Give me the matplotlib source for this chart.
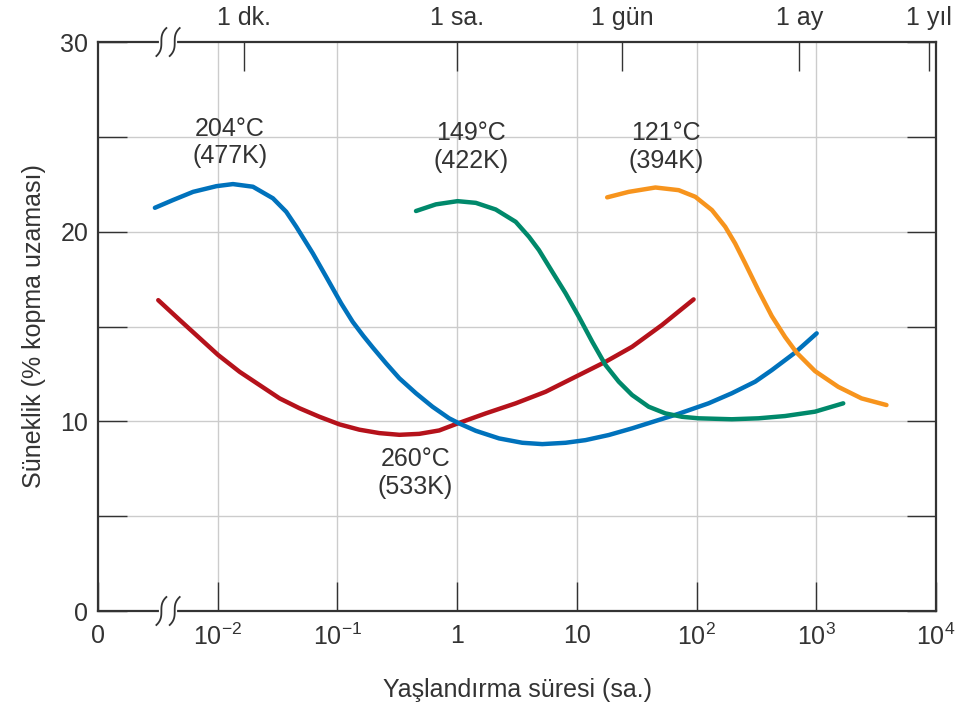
import numpy as np
import matplotlib
matplotlib.use("Agg")
import matplotlib.pyplot as plt

plt.rcParams['font.family'] = ['Liberation Sans', 'DejaVu Sans']
plt.rcParams['mathtext.fontset'] = 'custom'
plt.rcParams['mathtext.rm'] = 'Liberation Sans'

# log10(süre, sa.) ve süneklik (%)
t204 = [-2.525, -2.373, -2.206, -2.011, -1.873, -1.706, -1.539, -1.428, -1.344, -1.206,
        -1.094, -0.969, -0.873, -0.783, -0.706, -0.594, -0.483, -0.344, -0.206, -0.067,
        0.017, 0.156, 0.35, 0.544, 0.711, 0.906, 1.072, 1.267, 1.461, 1.683, 1.85, 2.1,
        2.294, 2.489, 2.628, 2.822, 3.003]
d204 = [21.26, 21.67, 22.10, 22.40, 22.51, 22.37, 21.76, 21.05, 20.26, 18.86,
        17.62, 16.22, 15.25, 14.50, 13.90, 13.06, 12.27, 11.48, 10.77, 10.16,
        9.89, 9.50, 9.10, 8.87, 8.80, 8.87, 9.01, 9.28, 9.63, 10.07, 10.40, 10.95,
        11.48, 12.09, 12.70, 13.62, 14.64]

t260 = [-2.497, -2.317, -2.15, -1.997, -1.817, -1.65, -1.483, -1.317, -1.15, -0.983,
        -0.817, -0.65, -0.483, -0.317, -0.15, 0.0, 0.239, 0.489, 0.739, 0.989, 1.239,
        1.461, 1.711, 1.975]
d260 = [16.39, 15.34, 14.38, 13.50, 12.61, 11.91, 11.21, 10.69, 10.24, 9.84,
        9.56, 9.38, 9.29, 9.34, 9.52, 9.88, 10.42, 10.95, 11.56, 12.35, 13.14,
        13.93, 15.08, 16.43]

t149 = [-0.344, -0.178, 0.003, 0.156, 0.322, 0.489, 0.6, 0.683, 0.794, 0.906, 1.017,
        1.128, 1.239, 1.35, 1.461, 1.6, 1.739, 1.878, 2.017, 2.294, 2.517, 2.739,
        2.989, 3.225]
d149 = [21.09, 21.44, 21.61, 21.52, 21.17, 20.52, 19.73, 19.03, 17.89, 16.75, 15.51,
        14.20, 12.97, 12.09, 11.39, 10.77, 10.42, 10.24, 10.16, 10.11, 10.16, 10.28,
        10.51, 10.95]

t121 = [1.253, 1.433, 1.656, 1.85, 1.989, 2.128, 2.239, 2.322, 2.406, 2.517, 2.628,
        2.739, 2.836, 2.989, 3.183, 3.378, 3.586]
d121 = [21.81, 22.10, 22.33, 22.19, 21.84, 21.14, 20.26, 19.38, 18.33, 16.90, 15.55,
        14.45, 13.62, 12.65, 11.82, 11.21, 10.86]

x_ticks = [1e-3, 1e-2, 1e-1, 1, 10, 1e2, 1e3, 1e4]
x_labels = ['0', r'$\mathregular{10^{-2}}$', r'$\mathregular{10^{-1}}$', '1', '10',
            r'$\mathregular{10^{2}}$', r'$\mathregular{10^{3}}$', r'$\mathregular{10^{4}}$']
top_ticks = [1 / 60, 1, 24, 720, 8760]
top_labels = ['1 dk.', '1 sa.', '1 gün', '1 ay', '1 yıl']

fs = 18
tc = '#333333'
fig = plt.figure(figsize=(9.62, 7.04), dpi=100)
ax = fig.add_axes([0.1019, 0.1321, 0.8711, 0.8082])

ax.set_xscale('log')
ax.set_xlim(1e-3, 1e4)
ax.set_ylim(0, 30)

for y in [5, 10, 15, 20, 25]:
    ax.axhline(y, color='#cccccc', lw=1.0, zorder=0)
for x in [1e-2, 1e-1, 1, 10, 1e2, 1e3]:
    ax.axvline(x, color='#cccccc', lw=1.0, zorder=0)

lw = 3.2
ax.plot(10 ** np.array(t260), d260, color='#b5121b', lw=lw, solid_capstyle='round', zorder=3)
ax.plot(10 ** np.array(t204), d204, color='#0072bc', lw=lw, solid_capstyle='round', zorder=3)
ax.plot(10 ** np.array(t149), d149, color='#00896b', lw=lw, solid_capstyle='round', zorder=3)
ax.plot(10 ** np.array(t121), d121, color='#f7941d', lw=lw, solid_capstyle='round', zorder=3)

kw = dict(ha='center', va='center', fontsize=fs, color=tc, linespacing=1.2)
ax.text(10 ** -1.9, 24.7, '204°C\n(477K)', **kw)
ax.text(10 ** 0.117, 24.45, '149°C\n(422K)', **kw)
ax.text(10 ** 1.742, 24.45, '121°C\n(394K)', **kw)
ax.text(10 ** -0.35, 7.27, '260°C\n(533K)', **kw)

ax.set_xticks(x_ticks)
ax.set_xticklabels(x_labels)
ax.xaxis.set_minor_locator(matplotlib.ticker.NullLocator())
ax.set_yticks([0, 10, 20, 30])
ax.set_yticks([5, 15, 25], minor=True)
ax.tick_params(axis='both', which='both', direction='in', length=21, width=1.0,
               color=tc, labelsize=fs, labelcolor=tc)
ax.tick_params(axis='x', pad=9)
ax.tick_params(axis='y', which='both', right=True, pad=7)

for s in ax.spines.values():
    s.set_linewidth(1.6)
    s.set_color(tc)

top = ax.twiny()
top.set_xscale('log')
top.set_xlim(1e-3, 1e4)
top.set_xticks(top_ticks)
top.set_xticklabels(top_labels)
top.xaxis.set_minor_locator(matplotlib.ticker.NullLocator())
top.tick_params(axis='x', direction='in', length=21, width=1.0, color=tc,
                labelsize=fs, labelcolor=tc, pad=9)
for s in top.spines.values():
    s.set_visible(False)

ax.set_xlabel('Yaşlandırma süresi (sa.)', fontsize=fs, color=tc, labelpad=20)
ax.set_ylabel('Süneklik (% kopma uzaması)', fontsize=fs, color=tc, labelpad=10)

# eksen kırılma işaretleri
tt = np.linspace(-1, 1, 60)
w = 5.0 / 838
h = 14 / 569
xb = [0.0756, 0.0915]
for yb in [0, 1]:
    ax.plot(xb, [yb, yb], transform=ax.transAxes, color='white', lw=3,
            clip_on=False, zorder=5)
    for xc in xb:
        ax.plot(xc + w * tt ** 3, yb + h * tt, transform=ax.transAxes, color=tc,
                lw=1.3, clip_on=False, zorder=6)

fig.savefig('out.png', dpi=100)
